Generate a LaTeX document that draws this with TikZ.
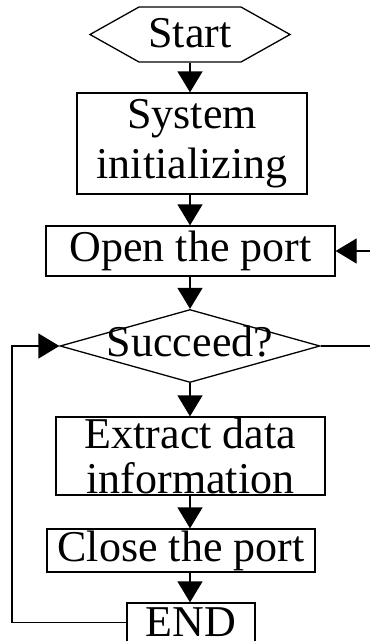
\documentclass[tikz,border=0pt]{standalone}
\usepackage{fontspec}
\setmainfont{Liberation Serif}
\usetikzlibrary{arrows.meta,shapes.geometric,shapes.symbols}
\tikzset{box/.style={draw, line width=1.3pt, inner sep=0pt, align=center, font=\fontsize{44}{50}\selectfont},
flow/.style={draw, line width=1.3pt, -{Triangle[length=21pt,width=25pt]}}}
\begin{document}
\begin{tikzpicture}[x=1pt,y=-1pt]
\useasboundingbox (0,0) rectangle (370,641);
\node [box, signal, signal to=east and west, signal pointer angle=58.6, minimum width=200pt, minimum height=55pt, text depth=3pt] (start) at (190,34.5) {Start};
\node [box, minimum width=230pt, minimum height=101pt] (init) at (192,143.5) {System\\initializing};
\node [box, minimum width=289pt, minimum height=50pt] (open) at (190.5,251) {Open the port};
\node [box, diamond, aspect=6, inner xsep=-40pt, inner ysep=-12pt, minimum width=260pt, minimum height=73pt, text depth=10pt] (succ) at (190,346) {Succeed?};
\node [box, minimum width=269pt, minimum height=78pt, font=\fontsize{44}{45}\selectfont] (extract) at (190.5,456) {Extract data\\information};
\node [box, minimum width=268pt, minimum height=43pt] (close) at (181,550.5) {Close the port};
\node [box, minimum width=128pt, minimum height=39pt] (finish) at (191,622.5) {END};
\coordinate (right) at (373,346);
\coordinate (left) at (12,622.5);
\draw [flow] (start.south) -- (start.south |- init.north);
\draw [flow] (start.south |- init.south) -- (start.south |- open.north);
\draw [flow] (start.south |- open.south) -- (succ.north);
\draw [flow] (succ.south) -- (succ.south |- extract.north);
\draw [flow] (succ.south |- extract.south) -- (succ.south |- close.north);
\draw [flow] (succ.south |- close.south) -- (succ.south |- finish.north);
\draw [flow] (succ.east) -- (right) |- (open.east);
\draw [flow] (finish.west) -- (left) |- (succ.west);
\end{tikzpicture}
\end{document}
